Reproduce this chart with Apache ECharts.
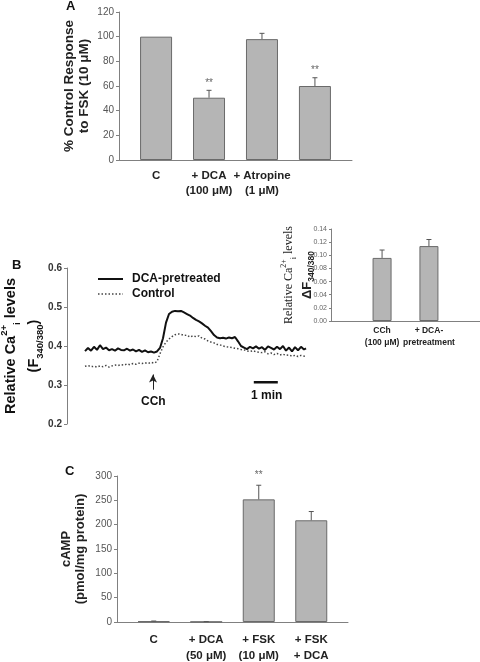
<!DOCTYPE html>
<html><head><meta charset="utf-8">
<script src="https://cdn.jsdelivr.net/npm/echarts@6/dist/echarts.min.js"></script>
<style>html,body{margin:0;padding:0;background:#fff}#c{width:480px;height:662px}</style>
</head><body><div id="c"></div>
<script>
// ---------- Panel A ----------
const catsA = ['C', '+ DCA\n(100 μM)', '+ Atropine\n(1 μM)', '+ DCA\n+ Atropine'];
const valsA = [100, 50.5, 98, 60];
const errA = [0, 6, 4.7, 6.7];
const starsA = ['', '**', '', '**'];
const ticksA = [0, 20, 40, 60, 80, 100, 120];

// ---------- Panel B (traces) ----------
const timeB = [0,7.5,15,22.5,30,37.5,45,52.5,60,67.5,75,82.5,90,97.5,105,112.5,120,127.5,135,142.5,150,157.5,165,172.5,180,187.5,195,202.5,210,217.5,225,232.5,240,247.5,255,262.5,270,277.5,285,292.5,300,307.5,315,322.5,330,337.5,345,352.5,360,367.5,375,382.5,390,397.5,405,412.5,420,427.5,435,442.5,450,457.5,465,472.5,480,487.5,495,502.5,510,517.5,525,532.5,540,547.5,552.5];
const dcaTrace = [0.387,0.395,0.388,0.398,0.390,0.402,0.392,0.396,0.389,0.392,0.388,0.394,0.390,0.389,0.393,0.388,0.391,0.386,0.390,0.385,0.389,0.384,0.386,0.383,0.386,0.395,0.420,0.460,0.482,0.488,0.490,0.489,0.490,0.486,0.482,0.478,0.472,0.467,0.463,0.458,0.452,0.447,0.438,0.428,0.422,0.420,0.421,0.419,0.422,0.420,0.423,0.412,0.400,0.396,0.392,0.398,0.394,0.399,0.393,0.397,0.390,0.399,0.395,0.391,0.398,0.392,0.400,0.388,0.396,0.386,0.397,0.389,0.398,0.391,0.394];
const controlTrace = [0.348,0.350,0.347,0.348,0.346,0.349,0.347,0.350,0.346,0.349,0.351,0.350,0.352,0.351,0.354,0.352,0.355,0.353,0.356,0.355,0.357,0.355,0.358,0.356,0.360,0.380,0.398,0.410,0.418,0.424,0.429,0.431,0.430,0.427,0.428,0.423,0.426,0.424,0.426,0.420,0.418,0.413,0.410,0.408,0.404,0.403,0.400,0.398,0.397,0.396,0.394,0.393,0.391,0.390,0.387,0.386,0.388,0.385,0.384,0.383,0.385,0.380,0.382,0.378,0.381,0.377,0.379,0.376,0.377,0.374,0.376,0.373,0.376,0.374,0.375];
const cchTime = 170;           // seconds, arrow position
const cchArrowY = [0.288, 0.327];
const scaleBarX = [422, 482];  // 1 min
const scaleBarY = 0.307;

// ---------- Panel B inset ----------
const catsBi = ['CCh\n(100 μM)', '+ DCA-\npretreatment'];
const valsBi = [0.096, 0.114];
const errBi = [0.012, 0.010];

// ---------- Panel C ----------
const catsC = ['C', '+ DCA\n(50 μM)', '+ FSK\n(10 μM)', '+ FSK\n+ DCA'];
const valsC = [1.5, 0.5, 252, 209];
const errC = [0.5, 0.3, 29, 18];
const starsC = ['', '', '**', ''];

const SANS = 'Arial, "Liberation Sans", Helvetica, sans-serif';
const SERIF = '"Times New Roman", "Liberation Serif", serif';
const AX = '#808080';
const BARFILL = '#b5b5b5';
const BARLINE = '#6a6a6a';

function errRender(stars, cap, gap) {
  return function (params, api) {
    const x = api.value(0), v = api.value(1), e = api.value(2);
    const base = api.coord([x, v]);
    const top = api.coord([x, v + e]);
    const ch = [];
    if (e > 0) {
      ch.push({type: 'line', shape: {x1: base[0], y1: base[1], x2: top[0], y2: top[1]}, style: {stroke: '#555', lineWidth: 1}});
      ch.push({type: 'line', shape: {x1: top[0] - cap, y1: top[1], x2: top[0] + cap, y2: top[1]}, style: {stroke: '#555', lineWidth: 1}});
    }
    const s = stars ? stars[params.dataIndex] : '';
    if (s) {
      ch.push({type: 'text', x: top[0], y: top[1] - gap, style: {text: s, fill: '#666', font: '10px ' + SANS, align: 'center', verticalAlign: 'middle'}});
    }
    return {type: 'group', children: ch};
  };
}

const idx4 = [0, 1, 2, 3];
const idx2 = [0, 1];

const chart = echarts.init(document.getElementById('c'), null, {renderer: 'canvas'});

const catLabel = (cats, size, margin, lh) => ({
  customValues: cats.map((c, i) => i),
  formatter: v => cats[Math.round(v)],
  fontFamily: SANS, fontWeight: 'bold', fontSize: size, color: '#222', lineHeight: lh, margin: margin
});

const option = {
  animation: false,
  backgroundColor: '#fff',
  textStyle: {fontFamily: SANS},
  grid: [
    {left: 119, top: 12, width: 233, height: 148, outerBoundsMode: 'none'},
    {left: 67, top: 268, width: 258, height: 156, outerBoundsMode: 'none'},
    {left: 331, top: 229, width: 149, height: 92, outerBoundsMode: 'none'},
    {left: 117, top: 476, width: 231, height: 146, outerBoundsMode: 'none'}
  ],
  legend: {
    data: [
      {name: 'DCA-pretreated', lineStyle: {color: '#111', width: 2, type: 'solid'}},
      {name: 'Control', lineStyle: {color: '#444', width: 1.5, type: [1.5, 2]}}
    ],
    left: 97, top: 273, orient: 'vertical', padding: 0,
    itemWidth: 25, itemHeight: 14, itemGap: 3,
    itemStyle: {opacity: 0},
    textStyle: {fontFamily: SANS, fontWeight: 'bold', fontSize: 12, color: '#111', padding: [0, 0, 0, 4]},
    selectedMode: false
  },
  xAxis: [
    {gridIndex: 0, type: 'value', min: -0.7, max: 3.7, axisLine: {onZero: false, lineStyle: {color: AX}}, axisTick: {show: false}, splitLine: {show: false},
     axisLabel: catLabel(catsA, 11.5, 8, 15)},
    {gridIndex: 1, type: 'value', min: -45, max: 600, show: false, axisLine: {onZero: false}},
    {gridIndex: 2, type: 'value', min: -1.09, max: 2.09, axisLine: {onZero: false, lineStyle: {color: AX}}, axisTick: {show: false}, splitLine: {show: false},
     axisLabel: catLabel(catsBi, 8.5, 4, 12)},
    {gridIndex: 3, type: 'value', min: -0.7, max: 3.7, axisLine: {onZero: false, lineStyle: {color: AX}}, axisTick: {show: false}, splitLine: {show: false},
     axisLabel: catLabel(catsC, 11.5, 10, 16)}
  ],
  yAxis: [
    {gridIndex: 0, type: 'value', min: ticksA[0], max: ticksA[ticksA.length - 1], interval: 20,
     axisLine: {show: true, onZero: false, lineStyle: {color: AX}}, axisTick: {show: true, length: 3, lineStyle: {color: AX}}, splitLine: {show: false},
     axisLabel: {fontSize: 10, color: '#555', margin: 5, fontFamily: SANS},
     name: '% Control Response\nto FSK (10 μM)', nameLocation: 'middle', nameRotate: 90, nameGap: 27, nameMoveOverlap: false,
     nameTextStyle: {fontFamily: SANS, fontWeight: 'bold', fontSize: 13.5, lineHeight: 15, color: '#222'}},
    {gridIndex: 1, type: 'value', min: 0.2, max: 0.6, interval: 0.1,
     axisLine: {show: true, onZero: false, lineStyle: {color: AX}}, axisTick: {show: true, length: 3, lineStyle: {color: AX}}, splitLine: {show: false},
     axisLabel: {fontSize: 10, fontWeight: 'bold', color: '#333', margin: 5, fontFamily: SANS, formatter: v => v.toFixed(1)},
     name: '{m|Relative Ca}{sup|2+}{sub|i}{m| levels}\n{m|(F}{sub|340/380}{m|)}', nameLocation: 'middle', nameRotate: 90, nameGap: 22, nameMoveOverlap: false,
     nameTextStyle: {fontFamily: SANS, fontWeight: 'bold', fontSize: 14.5, color: '#111', lineHeight: 23,
       rich: {
         m: {fontFamily: SANS, fontWeight: 'bold', fontSize: 14.5, color: '#111', lineHeight: 23, verticalAlign: 'middle'},
         sup: {fontFamily: SANS, fontWeight: 'bold', fontSize: 9.5, color: '#111', lineHeight: 10, verticalAlign: 'top'},
         sub: {fontFamily: SANS, fontWeight: 'bold', fontSize: 9.5, color: '#111', lineHeight: 10, verticalAlign: 'bottom'}
       }}},
    {gridIndex: 2, type: 'value', min: 0, max: 0.14, interval: 0.02,
     axisLine: {show: true, onZero: false, lineStyle: {color: AX}}, axisTick: {show: true, length: 2, lineStyle: {color: AX}}, splitLine: {show: false},
     axisLabel: {fontSize: 7, color: '#666', margin: 4, fontFamily: SANS, formatter: v => v.toFixed(2)},
     name: '{s|Relative Ca}{ssup|2+}{ssub|i}{s| levels}\n{b|ΔF}{bsub|340/380}', nameLocation: 'middle', nameRotate: 90, nameGap: 15, nameMoveOverlap: false,
     nameTextStyle: {fontFamily: SERIF, fontSize: 12, color: '#222', lineHeight: 18,
       rich: {
         s: {fontFamily: SERIF, fontSize: 12, color: '#222', lineHeight: 18, verticalAlign: 'middle'},
         ssup: {fontFamily: SERIF, fontSize: 8, color: '#222', lineHeight: 9, verticalAlign: 'top'},
         ssub: {fontFamily: SERIF, fontSize: 8, color: '#222', lineHeight: 9, verticalAlign: 'bottom'},
         b: {fontFamily: SANS, fontWeight: 'bold', fontSize: 13, color: '#222', lineHeight: 18, verticalAlign: 'middle'},
         bsub: {fontFamily: SANS, fontWeight: 'bold', fontSize: 8.5, color: '#222', lineHeight: 9, verticalAlign: 'bottom'}
       }}},
    {gridIndex: 3, type: 'value', min: 0, max: 300, interval: 50,
     axisLine: {show: true, onZero: false, lineStyle: {color: AX}}, axisTick: {show: true, length: 3, lineStyle: {color: AX}}, splitLine: {show: false},
     axisLabel: {fontSize: 10, color: '#555', margin: 5, fontFamily: SANS},
     name: 'cAMP\n(pmol/mg protein)', nameLocation: 'middle', nameRotate: 90, nameGap: 30, nameMoveOverlap: false,
     nameTextStyle: {fontFamily: SANS, fontWeight: 'bold', fontSize: 13, lineHeight: 14, color: '#222'}}
  ],
  series: [
    {type: 'bar', xAxisIndex: 0, yAxisIndex: 0, barWidth: 32, data: idx4.map(i => [i, valsA[i]]),
     itemStyle: {color: BARFILL, borderColor: BARLINE, borderWidth: 1}},
    {type: 'custom', xAxisIndex: 0, yAxisIndex: 0, z: 5, renderItem: errRender(starsA, 2.5, 7.5),
     data: idx4.map(i => [i, valsA[i], errA[i]]), encode: {x: 0, y: 1}},

    {name: 'DCA-pretreated', type: 'line', xAxisIndex: 1, yAxisIndex: 1, showSymbol: false, symbol: 'none',
     data: timeB.map((t, i) => [t, dcaTrace[i]]), lineStyle: {color: '#111', width: 2}, itemStyle: {color: '#111'}},
    {name: 'Control', type: 'line', xAxisIndex: 1, yAxisIndex: 1, showSymbol: false, symbol: 'none',
     data: timeB.map((t, i) => [t, controlTrace[i]]), lineStyle: {color: '#444', width: 1.5, type: [1.5, 2]}, itemStyle: {color: '#444'},
     markLine: {silent: true, symbol: ['none', 'arrow'], symbolSize: [6, 8], label: {show: false},
       lineStyle: {color: '#222', width: 1, type: 'solid'},
       data: [[{coord: [cchTime, cchArrowY[0]]}, {coord: [cchTime, cchArrowY[1]]}]]}},
    {type: 'line', xAxisIndex: 1, yAxisIndex: 1, showSymbol: false, symbol: 'none',
     data: scaleBarX.map(x => [x, scaleBarY]), lineStyle: {color: '#111', width: 2.5}},

    {type: 'bar', xAxisIndex: 2, yAxisIndex: 2, barWidth: 19, data: idx2.map(i => [i, valsBi[i]]),
     itemStyle: {color: BARFILL, borderColor: BARLINE, borderWidth: 1}},
    {type: 'custom', xAxisIndex: 2, yAxisIndex: 2, z: 5, renderItem: errRender(null, 2.5, 8),
     data: idx2.map(i => [i, valsBi[i], errBi[i]]), encode: {x: 0, y: 1}},

    {type: 'bar', xAxisIndex: 3, yAxisIndex: 3, barWidth: 32, data: idx4.map(i => [i, valsC[i]]),
     itemStyle: {color: BARFILL, borderColor: BARLINE, borderWidth: 1}},
    {type: 'custom', xAxisIndex: 3, yAxisIndex: 3, z: 5, renderItem: errRender(starsC, 2.5, 10),
     data: idx4.map(i => [i, valsC[i], errC[i]]), encode: {x: 0, y: 1}}
  ],
  graphic: [
    {type: 'text', left: 66, top: 0, style: {text: 'A', font: 'bold 13px ' + SANS, fill: '#111'}},
    {type: 'text', left: 12, top: 259, style: {text: 'B', font: 'bold 13px ' + SANS, fill: '#111'}},
    {type: 'text', left: 65, top: 465, style: {text: 'C', font: 'bold 13px ' + SANS, fill: '#111'}},
    {type: 'text', left: 141, top: 396, style: {text: 'CCh', font: 'bold 12px ' + SANS, fill: '#111'}},
    {type: 'text', left: 251, top: 390, style: {text: '1 min', font: 'bold 12px ' + SANS, fill: '#111'}}
  ]
};
chart.setOption(option);
</script>
</body></html>
